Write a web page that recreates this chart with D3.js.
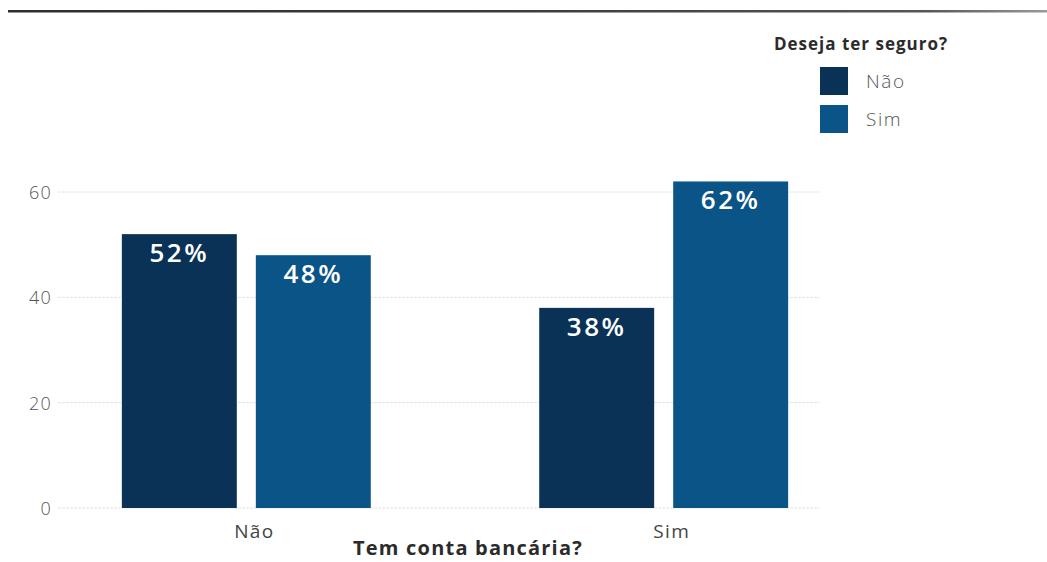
<!DOCTYPE html>
<html>
<head>
<meta charset="utf-8">
<script src="https://cdn.jsdelivr.net/npm/d3@7"></script>
<style>
  html, body { margin: 0; padding: 0; background: #ffffff; }
  svg { display: block; }
</style>
</head>
<body>
<svg id="chart" width="1047" height="562"></svg>
<script>
// Grouped bars: "Tem conta bancária?" x "Deseja ter seguro?"
const categories = ["Não", "Sim"];
const seriesNames = ["Não", "Sim"];
const seriesNao = [52, 38];
const seriesSim = [48, 62];
const yTicks = [0, 20, 40, 60];
const legendTitle = "Deseja ter seguro?";
const xTitle = "Tem conta bancária?";

const colors = ["#0a3257", "#0a5487"];
const font = "'Open Sans', 'Noto Sans', sans-serif";

const svg = d3.select("#chart");

// Rule across the top
const grad = svg.append("defs").append("linearGradient")
  .attr("id", "topRule").attr("x1", "0%").attr("x2", "100%");
grad.append("stop").attr("offset", "0%").attr("stop-color", "#2e2e2e");
grad.append("stop").attr("offset", "45%").attr("stop-color", "#3a3a3a");
grad.append("stop").attr("offset", "88%").attr("stop-color", "#555");
grad.append("stop").attr("offset", "100%").attr("stop-color", "#999");
svg.append("rect").attr("x", 8).attr("y", 10).attr("width", 1039).attr("height", 2.5)
  .attr("fill", "url(#topRule)");

const y = d3.scaleLinear().domain([0, 60]).range([508, 192]);

const x0 = d3.scaleBand().domain(categories).range([58, 852])
  .paddingInner(0.4036).paddingOuter(0.153);
const x1 = d3.scaleBand().domain(seriesNames).range([0, x0.bandwidth()])
  .paddingInner(0.142);

const gridLeft = 58, gridRight = 820;

// Gridlines
svg.append("g").selectAll("line").data(yTicks).join("line")
  .attr("x1", gridLeft).attr("x2", gridRight)
  .attr("y1", d => y(d)).attr("y2", d => y(d))
  .attr("stroke", "#e2e2e2").attr("stroke-width", 1)
  .attr("stroke-dasharray", "3,1");

// Y axis labels
const yAxis = d3.axisLeft(y).tickValues(yTicks).tickSize(0).tickPadding(0);
const gy = svg.append("g").attr("transform", "translate(52,0)").call(yAxis);
gy.select(".domain").remove();
gy.selectAll("text")
  .attr("font-family", font).attr("font-size", 18).attr("fill", "#555")
  .attr("font-weight", 300).attr("letter-spacing", 1.2).attr("dy", "0.36em");

// Bars
const rows = categories.map((c, i) => ({ cat: c, vals: [seriesNao[i], seriesSim[i]] }));
const groups = svg.append("g").selectAll("g").data(rows).join("g")
  .attr("transform", d => `translate(${x0(d.cat)},0)`);

groups.selectAll("rect")
  .data(d => d.vals.map((v, j) => ({ s: seriesNames[j], v, j })))
  .join("rect")
  .attr("x", d => x1(d.s))
  .attr("y", d => y(d.v))
  .attr("width", x1.bandwidth())
  .attr("height", d => y(0) - y(d.v))
  .attr("fill", d => colors[d.j]);

groups.selectAll("text.val")
  .data(d => d.vals.map((v, j) => ({ s: seriesNames[j], v, j })))
  .join("text")
  .attr("class", "val")
  .attr("x", d => x1(d.s) + x1.bandwidth() / 2)
  .attr("y", d => y(d.v) + 28)
  .attr("text-anchor", "middle")
  .attr("font-family", font).attr("font-size", 26).attr("font-weight", 600)
  .attr("letter-spacing", 2.5)
  .attr("fill", "#ffffff")
  .text(d => d.v + "%");

// X axis labels
const xAxis = d3.axisBottom(x0).tickSize(0).tickPadding(0);
const gx = svg.append("g").attr("transform", "translate(8,524)").call(xAxis);
gx.select(".domain").remove();
gx.selectAll("text")
  .attr("font-family", font).attr("font-size", 19).attr("fill", "#444")
  .attr("font-weight", 400).attr("letter-spacing", 1.3).attr("dy", "0.71em");

svg.append("text")
  .attr("x", 468).attr("y", 555)
  .attr("text-anchor", "middle")
  .attr("font-family", font).attr("font-size", 20).attr("font-weight", 700)
  .attr("letter-spacing", 1.2)
  .attr("fill", "#2b2b2b")
  .text(xTitle);

// Legend
const legend = svg.append("g");
legend.append("text")
  .attr("x", 861).attr("y", 50).attr("text-anchor", "middle")
  .attr("font-family", font).attr("font-size", 17).attr("font-weight", 700)
  .attr("letter-spacing", 1)
  .attr("fill", "#2b2b2b")
  .text(legendTitle);
const items = legend.selectAll("g.item").data(seriesNames).join("g")
  .attr("class", "item")
  .attr("transform", (d, i) => `translate(820,${67 + i * 38})`);
items.append("rect").attr("width", 28).attr("height", 28)
  .attr("fill", (d, i) => colors[i]);
items.append("text")
  .attr("x", 46).attr("y", 14).attr("dy", "0.36em")
  .attr("font-family", font).attr("font-size", 19).attr("font-weight", 300)
  .attr("letter-spacing", 1.6)
  .attr("fill", "#555")
  .text(d => d);
</script>
</body>
</html>
